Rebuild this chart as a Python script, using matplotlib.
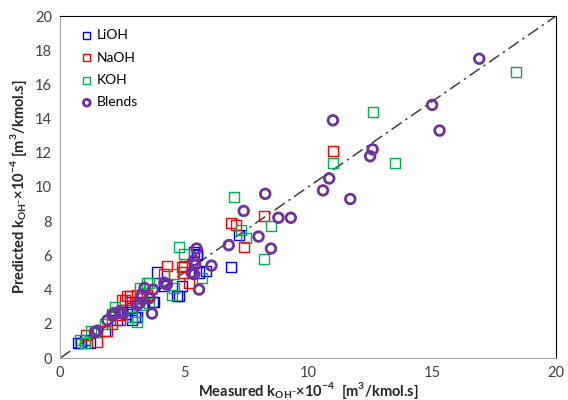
import matplotlib
matplotlib.use("Agg")
import matplotlib.pyplot as plt

plt.rcParams["font.family"] = ["Lato", "DejaVu Sans"]
plt.rcParams["mathtext.fontset"] = "custom"
plt.rcParams["mathtext.rm"] = "Lato"
plt.rcParams["mathtext.bf"] = "Lato:bold"

# ── Data (measured, predicted) ────────────────────────────────────────────
lioh_x = [7.2, 6.9, 5.5, 5.9, 4.9, 4.8, 3.9, 3.8, 4.2, 5.4, 5.5, 4.7, 3.0, 2.9,
          1.0, 0.7, 3.3, 3.1, 5.6, 3.75, 3.1, 2.7, 2.8, 2.9, 2.3, 1.8, 1.2, 0.85, 2.4]
lioh_y = [7.2, 5.3, 6.1, 5.1, 4.2, 3.6, 5.0, 3.3, 4.2, 6.2, 6.0, 3.6, 2.4, 2.9,
          1.05, 0.9, 3.5, 3.3, 5.0, 3.3, 2.4, 2.6, 3.3, 2.2, 2.2, 1.6, 0.9, 0.9, 2.7]

naoh_x = [11.0, 8.2, 6.9, 7.1, 7.4, 4.3, 4.2, 4.9, 5.3, 5.2, 5.0, 4.95, 2.5, 2.7,
          3.2, 3.5, 3.1, 2.4, 1.5, 1.9, 2.6, 2.4, 2.1, 1.05, 2.8, 3.3]
naoh_y = [12.1, 8.3, 7.9, 7.8, 6.5, 5.4, 4.9, 5.3, 5.5, 4.4, 5.4, 5.0, 3.4, 3.6,
          3.5, 3.7, 3.7, 2.2, 0.95, 1.6, 3.4, 2.5, 2.0, 1.35, 3.6, 3.5]

koh_x = [18.4, 12.6, 11.0, 13.5, 8.5, 7.0, 7.5, 7.3, 8.2, 4.8, 5.0, 5.7, 4.6, 4.5,
         3.6, 4.6, 3.5, 3.2, 3.6, 3.3, 2.2, 2.1, 2.9, 3.1, 0.8, 1.0, 1.4, 2.2, 1.8, 1.25]
koh_y = [16.7, 14.4, 11.4, 11.4, 7.7, 9.4, 7.0, 7.5, 5.8, 6.5, 6.1, 4.7, 4.9, 3.7,
         4.4, 4.1, 4.4, 4.1, 3.2, 3.1, 2.7, 2.6, 2.4, 2.1, 1.05, 0.9, 1.5, 3.0, 2.0, 1.6]

blend_x = [16.9, 15.0, 15.3, 11.0, 12.6, 12.5, 10.85, 10.6, 11.7, 8.27, 7.4, 8.8,
           9.3, 8.0, 8.5, 6.8, 6.1, 5.5, 5.6, 5.4, 5.4, 5.45, 5.3, 4.3, 4.2, 3.75,
           3.7, 3.6, 3.4, 3.3, 3.2, 3.1, 2.5, 2.2, 2.1, 1.9, 1.5, 1.4, 2.4]
blend_y = [17.5, 14.8, 13.3, 13.9, 12.2, 11.8, 10.5, 9.8, 9.3, 9.6, 8.6, 8.2,
           8.2, 7.1, 6.4, 6.6, 5.4, 6.4, 4.0, 5.7, 4.9, 5.45, 5.0, 4.3, 4.4, 4.0,
           2.6, 3.5, 4.1, 3.7, 3.2, 3.1, 2.6, 2.6, 2.5, 2.2, 1.6, 1.5, 2.7]

parity = [0, 20]

# ── Plot ──────────────────────────────────────────────────────────────────
fig = plt.figure(figsize=(5.68, 4.0), dpi=100)
ax = fig.add_axes([0.106, 0.105, 0.873, 0.855])

ax.plot(parity, parity, color="#404040", linewidth=1.1, linestyle=(0, (8, 3, 1.5, 3)),
        zorder=1)

sq = dict(marker="s", s=52, facecolors="none", linewidths=1.0, zorder=3)
ax.scatter(lioh_x, lioh_y, edgecolors="#0000FF", label="LiOH", **sq)
ax.scatter(naoh_x, naoh_y, edgecolors="#FF0000", label="NaOH", **sq)
ax.scatter(koh_x, koh_y, edgecolors="#00B050", label="KOH", **sq)
ax.scatter(blend_x, blend_y, marker="o", s=48, facecolors="none",
           edgecolors="#7030A0", linewidths=2.0, label="Blends", zorder=4)

ax.set_xlim(0, 20)
ax.set_ylim(0, 20)
ax.set_xticks(range(0, 21, 5))
ax.set_yticks(range(0, 21, 2))
ax.tick_params(length=0, labelsize=10.5, labelcolor="#404040", pad=6)

for side in ("left", "bottom"):
    ax.spines[side].set_color("#A6A6A6")
for side in ("top", "right"):
    ax.spines[side].set_color("#000000")

ax.set_xlabel(r"Measured k$_{\mathbf{OH^{-}}}$×10$^{\mathbf{-4}}$  [m$^{\mathbf{3}}$/kmol.s]",
              fontsize=10.5, fontweight="bold", color="#262626", labelpad=0)
ax.set_ylabel(r"Predicted k$_{\mathbf{OH^{-}}}$×10$^{\mathbf{-4}}$ [m$^{\mathbf{3}}$/kmol.s]",
              fontsize=10.5, fontweight="bold", color="#262626", labelpad=4)

ax.legend(loc="upper left", bbox_to_anchor=(0.02, 0.99), frameon=False,
          fontsize=10, handletextpad=0.2, labelspacing=0.75, markerscale=0.7,
          borderaxespad=0.3, handlelength=1.0)

fig.savefig("out.png", dpi=100, facecolor="white")
plt.close(fig)
